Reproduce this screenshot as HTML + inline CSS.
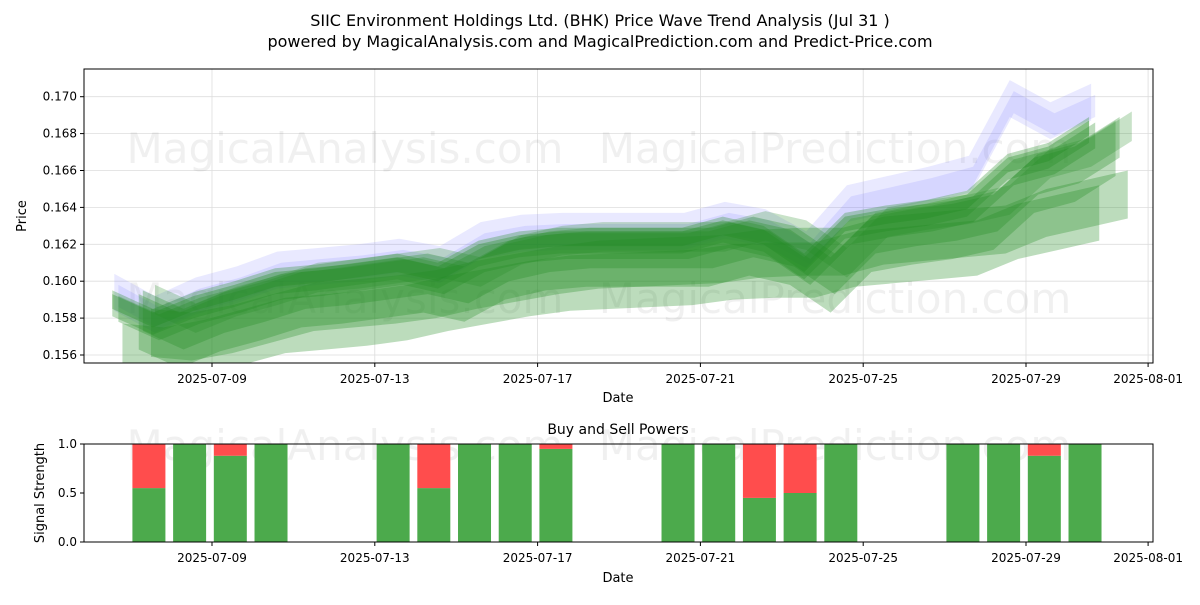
<!DOCTYPE html>
<html><head><meta charset="utf-8"><style>
body{margin:0;background:#fff;font-family:"Liberation Sans","DejaVu Sans",sans-serif}
svg text{font-family:"DejaVu Sans","Liberation Sans",sans-serif}
</style></head><body>
<svg id="c" width="1200" height="600" xmlns="http://www.w3.org/2000/svg">
<text x="600" y="26" text-anchor="middle" font-size="16">SIIC Environment Holdings Ltd. (BHK) Price Wave Trend Analysis (Jul 31 )</text>
<text x="600" y="47" text-anchor="middle" font-size="16">powered by MagicalAnalysis.com and MagicalPrediction.com and Predict-Price.com</text>
<g id="top"></g><g id="bot"></g>
</svg>
<script>
const days=[7,8,9,10,11,12,13,14,15,16,17,18,19,20,21,22,23,24,25,26,27,28,29,30,31];
const center=[0.1588,0.1578,0.1587,0.1593,0.1600,0.1602,0.1605,0.1608,0.1603,0.1615,0.1620,0.1622,0.1622,0.1622,0.1622,0.1628,0.1623,0.1608,0.1630,0.1634,0.1637,0.1642,0.1662,0.1668,0.1682];
const blue=[0.1592,0.1580,0.1590,0.1596,0.1604,0.1606,0.1608,0.1611,0.1607,0.1620,0.1624,0.1625,0.1625,0.1625,0.1625,0.1631,0.1627,0.1615,0.1640,0.1645,0.1650,0.1656,0.1697,0.1685,0.1695];
const lower=[0.1570,0.1568,0.1572,0.1578,0.1584,0.1586,0.1588,0.1591,0.1596,0.1600,0.1604,0.1607,0.1608,0.1609,0.1610,0.1613,0.1614,0.1614,0.1620,0.1622,0.1624,0.1626,0.1635,0.1640,0.1645];
const barDays=[8,9,10,11,14,15,16,17,18,21,22,23,24,25,28,29,30,31];
const buy=[0.55,1,0.88,1,1,0.55,1,1,0.95,1,1,0.45,0.5,1,1,1,0.88,1];
const yTicks=[0.156,0.158,0.160,0.162,0.164,0.166,0.168,0.170];
const xTickDays=[9,13,17,21,25,29,32];
const xTickLabels=["2025-07-09","2025-07-13","2025-07-17","2025-07-21","2025-07-25","2025-07-29","2025-08-01"];
const NS="http://www.w3.org/2000/svg";
const L=84,R=1153,T=69,B=363,BT=444,BB=542;
const xs=d=>212+(d-9)*40.7;
const ys=v=>355-(v-0.156)/0.002*36.9;
const yb=v=>BB-v*(BB-BT);
function mk(p,t,a){const e=document.createElementNS(NS,t);for(const k in a)e.setAttribute(k,a[k]);p.appendChild(e);return e;}
const gTop=document.getElementById('top'),gBot=document.getElementById('bot');
const clip=mk(gTop,'clipPath',{id:'pc'});mk(clip,'rect',{x:L,y:T,width:R-L,height:B-T});
yTicks.forEach(v=>{const l=mk(gTop,'line',{x1:L,x2:R,y1:ys(v),y2:ys(v),stroke:'#ddd','stroke-width':0.8});});
xTickDays.forEach(d=>{const l=mk(gTop,'line',{x1:xs(d),x2:xs(d),y1:T,y2:B,stroke:'#ddd','stroke-width':0.8});});
[[345,163,'MagicalAnalysis.com'],[835,163,'MagicalPrediction.com'],[345,313,'MagicalAnalysis.com'],[835,313,'MagicalPrediction.com']].forEach(w=>{const e=mk(gTop,'text',{x:w[0],y:w[1],'text-anchor':'middle','font-size':42,fill:'#000','fill-opacity':0.06});e.textContent=w[2];});
const bands=mk(gTop,'g',{'clip-path':'url(#pc)'});
function band(src,off,hw,col,op,shift){let up=[],dn=[];src.forEach((v,i)=>{const d=days[i]+shift;up.push(xs(d)+','+ys(v+off+hw));dn.unshift(xs(d)+','+ys(v+off-hw));});const p=mk(bands,'polygon',{points:up.concat(dn).join(' '),fill:col,'fill-opacity':op});}
band(blue,0.0002,0.0010,'#6a6aff',0.15,-0.4);
band(blue,0,0.0006,'#6a6aff',0.15,-0.3);
band(lower,-0.0008,0.0015,'#228b22',0.3,-0.2);
band(lower,0.0002,0.0013,'#228b22',0.3,0.5);
band(center,-0.0010,0.0015,'#228b22',0.3,0.2);
band(center,-0.0004,0.0011,'#228b22',0.3,0.3);
band(center,0.0002,0.0008,'#228b22',0.25,0.6);
band(center,0,0.0007,'#228b22',0.3,-0.45);
band(center,0.0001,0.0004,'#228b22',0.35,-0.45);
band(center,-0.0003,0.0007,'#228b22',0.3,-0.3);
mk(gTop,'rect',{x:L,y:T,width:R-L,height:B-T,fill:'none',stroke:'#000','stroke-width':1});
yTicks.forEach(v=>{mk(gTop,'line',{x1:L-4,x2:L,y1:ys(v),y2:ys(v),stroke:'#000'});const e=mk(gTop,'text',{x:L-7,y:ys(v)+4,'text-anchor':'end','font-size':12});e.textContent=v.toFixed(3);});
xTickDays.forEach((d,i)=>{mk(gTop,'line',{x1:xs(d),x2:xs(d),y1:B,y2:B+4,stroke:'#000'});const e=mk(gTop,'text',{x:xs(d),y:B+20,'text-anchor':'middle','font-size':12});e.textContent=xTickLabels[i];});
let t=mk(gTop,'text',{x:618,y:402,'text-anchor':'middle','font-size':13});t.textContent='Date';


t=mk(gTop,'text',{x:26,y:216,'text-anchor':'middle','font-size':13,transform:'rotate(-90 26 216)'});t.textContent='Price';


[[345,460,'MagicalAnalysis.com'],[835,460,'MagicalPrediction.com']].forEach(w=>{const e=mk(gBot,'text',{x:w[0],y:w[1],'text-anchor':'middle','font-size':42,fill:'#000','fill-opacity':0.06});e.textContent=w[2];});
barDays.forEach((d,i)=>{const x=xs(d-0.55)-16.5,w=33;const g=mk(gBot,'rect',{x:x,y:yb(buy[i]),width:w,height:yb(0)-yb(buy[i]),fill:'#4caa4c'});const r=mk(gBot,'rect',{x:x,y:yb(1),width:w,height:yb(buy[i])-yb(1),fill:'#ff4d4d'});});
mk(gBot,'rect',{x:L,y:BT,width:R-L,height:BB-BT,fill:'none',stroke:'#000'});
[0,0.5,1].forEach(v=>{mk(gBot,'line',{x1:L-4,x2:L,y1:yb(v),y2:yb(v),stroke:'#000'});const e=mk(gBot,'text',{x:L-7,y:yb(v)+4,'text-anchor':'end','font-size':12});e.textContent=v.toFixed(1);});
xTickDays.forEach((d,i)=>{mk(gBot,'line',{x1:xs(d),x2:xs(d),y1:BB,y2:BB+4,stroke:'#000'});const e=mk(gBot,'text',{x:xs(d),y:BB+20,'text-anchor':'middle','font-size':12});e.textContent=xTickLabels[i];});
t=mk(gBot,'text',{x:618,y:434,'text-anchor':'middle','font-size':14});t.textContent='Buy and Sell Powers';


t=mk(gBot,'text',{x:618,y:582,'text-anchor':'middle','font-size':13});t.textContent='Date';


t=mk(gBot,'text',{x:44,y:493,'text-anchor':'middle','font-size':13,transform:'rotate(-90 44 493)'});t.textContent='Signal Strength';


</script>
</body></html>
